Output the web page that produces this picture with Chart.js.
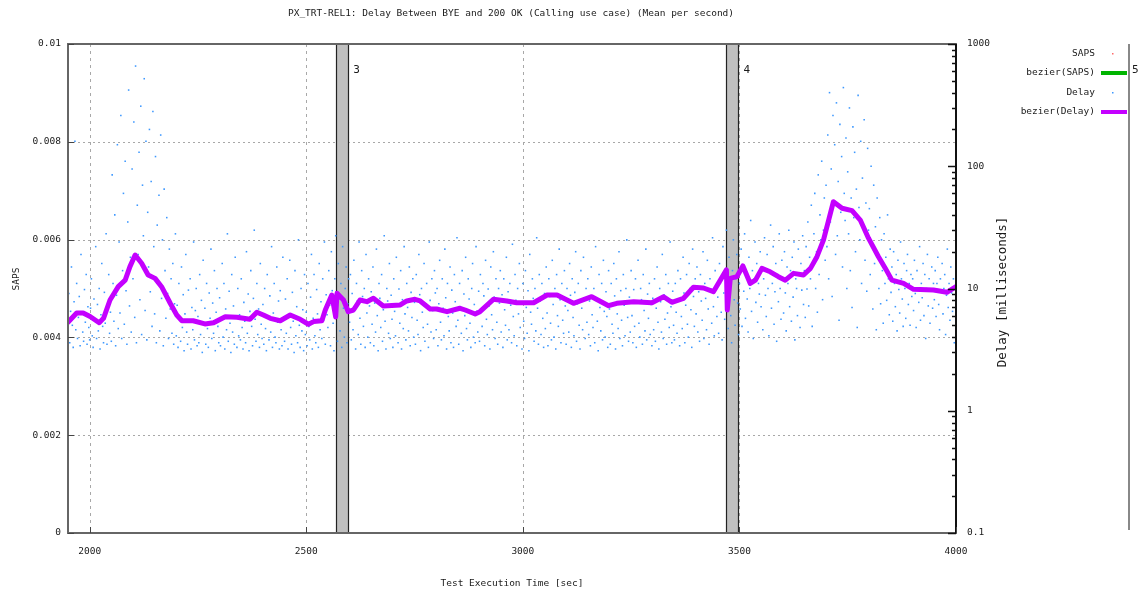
<!DOCTYPE html>
<html><head><meta charset="utf-8">
<script src="https://cdn.jsdelivr.net/npm/chart.js@4/dist/chart.umd.min.js"></script>
<style>html,body{margin:0;padding:0;background:#fff;overflow:hidden}canvas{display:block}</style>
</head><body>
<canvas id="c" width="1146" height="595"></canvas>
<script>
const chartTitle = 'PX_TRT-REL1: Delay Between BYE and 200 OK (Calling use case) (Mean per second)';
const xTitle = 'Test Execution Time [sec]';
const yTitle = 'SAPS';
const y2Title = 'Delay [milliseconds]';
const xTicks = [2000, 2500, 3000, 3500, 4000];
const sapsTicks = [0, 0.002, 0.004, 0.006, 0.008, 0.01];
const sapsTickLabels = ['0', '0.002', '0.004', '0.006', '0.008', '0.01'];
const delayTicks = [0.1, 1, 10, 100, 1000];
const delayTickLabels = ['0.1', '1', '10', '100', '1000'];
const bandStart = [2569, 3470];
const bandEnd = [2599, 3500];
const bandLabel = ['3', '4'];
const legendLabels = ['SAPS', 'bezier(SAPS)', 'Delay', 'bezier(Delay)'];

// Delay (ms), one reading every 2 s starting at 1950 s
const scatterStart = 1950, scatterStep = 2;
const delayScatter = [
4.2,9.1,3.6,6.5,15,5.0,3.3,7.8,160,4.6,11,3.9,5.8,8.6,3.4,19,6.2,4.4,3.7,9.8,5.3,13,3.5,7.1,4.8,
3.8,6.9,12,4.1,3.3,8.2,5.6,22,3.9,7.4,4.5,10,3.2,6.1,16,4.9,3.6,9.3,5.2,28,3.5,7.7,13,4.3,6.4,
3.7,85,11,5.4,40,3.4,8.8,150,4.7,24,6.3,260,3.9,14,60,5.1,110,9.6,3.5,35,420,7.2,18,4.4,95,
12,230,5.8,660,3.6,48,19,130,8.1,310,4.2,70,27,520,6.6,160,3.8,42,15,200,9.4,75,4.9,280,22,
6.2,120,3.6,33,11,58,4.5,180,8.3,25,3.4,65,14,5.7,38,9.1,3.9,21,6.8,12,4.3,16,3.5,7.5,28,
4.1,7.3,3.3,11,5.6,3.7,15,4.8,8.9,3.1,6.2,19,4.4,3.5,9.7,5.3,12,3.2,7.0,4.6,24,3.8,6.6,10,3.4,
5.9,3.6,13,4.2,8.0,3.0,17,5.1,6.9,3.5,11,4.7,3.3,9.2,5.7,21,3.9,7.6,4.3,14,3.1,6.4,10,4.9,3.6,
8.4,3.4,5.5,16,4.0,11,3.2,6.8,4.6,28,3.7,9.5,5.2,3.0,13,4.4,7.2,3.5,18,5.8,3.3,10,4.1,6.1,3.8,
12,4.8,3.2,7.7,5.4,3.6,20,4.3,9.0,3.1,6.5,14,4.9,3.4,8.3,30,5.6,3.7,11,4.2,6.8,3.3,16,5.1,3.9,
7.4,3.5,10,4.7,3.1,13,5.9,3.8,8.7,4.4,22,3.3,6.3,11,4.0,3.6,15,5.3,7.9,3.2,9.6,4.6,3.4,18,5.7,
3.7,8.2,4.3,12,3.2,6.0,17,4.8,3.5,9.3,5.4,3.0,14,4.1,7.1,3.6,25,5.0,3.3,10,4.5,6.7,3.1,13,4.2,
6.4,3.4,11,4.9,3.8,8.5,19,3.2,5.7,13,4.1,3.6,9.8,6.2,3.3,16,4.6,7.8,3.9,12,5.5,24,3.5,8.9,6.1,
4.8,14,7.3,3.4,20,9.6,5.2,3.1,12,27,6.4,3.7,16,8.2,4.5,11,3.3,22,6.9,4.0,10,15,3.6,7.5,12,
5.3,13,3.8,9.1,4.6,17,6.8,3.2,11,7.9,4.2,24,5.7,3.5,14,8.6,4.9,10,3.3,19,6.3,4.0,12,7.2,3.6,
9.4,5.1,15,3.4,7.6,4.4,21,6.0,3.1,11,8.3,4.8,13,3.7,6.7,27,5.4,3.2,10,7.9,4.3,16,3.9,8.8,5.6,
3.3,12,6.5,4.1,18,7.4,3.6,9.9,5.2,14,3.2,8.1,4.7,22,6.2,3.8,11,7.0,4.5,15,3.4,9.3,5.8,12,4.0,
7.7,3.5,13,5.5,4.2,19,8.9,3.1,10,6.4,4.8,16,3.7,7.2,11,5.1,3.3,24,8.0,4.4,12,6.6,3.9,14,9.2,
4.6,10,3.4,7.5,17,5.3,3.8,12,6.9,4.1,21,8.4,3.2,11,5.9,4.5,15,3.6,9.7,6.3,3.3,13,7.8,4.9,26,
5.5,3.5,11,7.1,4.3,14,3.1,9.0,6.0,18,4.7,3.8,12,8.2,5.2,3.3,10,16,4.0,7.4,3.6,22,6.5,4.4,9.5,
3.7,13,6.8,4.9,11,8.7,3.4,17,5.6,4.2,9.9,7.2,3.2,15,6.1,4.6,20,8.5,3.9,12,5.3,3.5,10,7.6,14,
4.4,8.9,3.3,12,6.7,5.0,18,3.8,9.4,4.6,11,7.3,3.6,23,5.9,4.1,13,8.0,3.4,10,6.2,16,4.8,7.7,3.2,
11,5.4,3.9,14,7.0,4.3,9.6,3.1,19,6.4,5.1,12,8.3,3.7,10,4.5,26,6.9,3.5,13,7.9,4.2,11,5.7,3.3,
9.1,4.7,15,6.3,3.4,12,8.6,5.2,3.8,17,7.4,4.0,10,3.2,13,6.0,4.9,21,8.1,3.6,11,5.5,4.3,14,7.2,
3.5,10,6.6,4.4,16,8.8,3.3,12,5.8,4.1,9.3,20,3.7,7.5,11,5.0,3.2,14,6.9,4.6,18,8.4,3.9,10,5.3,
12,4.2,7.9,3.4,15,6.1,4.8,10,3.6,22,8.0,5.4,3.1,13,7.0,4.5,11,3.8,17,6.5,4.0,9.4,5.9,3.3,14,
6.8,3.5,11,5.1,4.3,16,8.7,3.2,12,6.2,4.7,20,3.9,9.6,5.5,3.4,13,7.3,4.1,10,25,5.8,3.7,8.5,4.4,
14,6.0,3.6,9.8,4.9,12,3.3,7.7,17,5.2,4.0,10,8.1,3.5,13,6.6,4.5,21,3.8,9.0,5.7,11,4.2,7.4,3.4,
8.3,4.6,12,3.7,6.9,15,5.3,3.2,10,7.8,4.4,19,3.9,8.9,5.6,13,3.5,6.3,11,4.8,24,7.1,3.6,9.5,5.0,
3.8,11,6.4,4.3,14,8.0,3.4,12,5.9,4.7,18,9.2,3.6,7.3,13,5.1,4.0,16,10,6.7,3.3,21,8.6,4.9,12,
6.2,15,4.4,9.4,3.7,13,7.9,5.5,20,3.9,11,8.3,4.6,17,6.8,3.5,12,9.9,5.2,26,7.1,4.1,14,10,5.9,
8.5,4.3,16,11,6.4,3.8,22,9.2,5.6,13,30,7.3,4.7,18,10,6.0,3.6,14,25,8.1,5.0,12,19,7.6,4.2,
11,6.8,21,4.9,15,9.5,28,5.7,13,8.2,4.4,18,10,36,6.5,14,3.9,12,24,7.7,16,5.3,11,9.0,20,
7.1,15,4.6,12,26,8.8,5.9,19,10,4.1,14,33,6.9,11,22,5.1,9.4,16,3.7,13,7.8,28,10,5.6,17,
12,6.3,20,9.2,4.5,15,11,30,7.1,14,5.4,18,8.5,24,3.8,12,10,6.0,21,13,4.8,16,9.7,27,7.4,
14,5.8,22,9.9,35,7.2,18,12,48,4.9,16,28,60,10,20,6.4,85,13,40,25,110,8.1,30,55,17,
70,22,180,12,400,35,95,8.6,260,48,150,19,330,27,75,5.5,220,42,120,15,440,60,36,170,10,
90,28,300,14,55,7.0,210,38,130,20,65,4.8,380,46,25,160,11,80,33,240,17,50,9.5,140,30,
45,13,100,22,6.8,70,16,32,4.6,55,19,10,38,7.5,25,14,5.2,28,11,18,8.0,40,12,6.1,21,
9.3,15,5.4,20,11,7.1,13,4.5,17,9.8,6.3,24,12,8.2,4.9,16,10,5.7,14,19,7.4,11,5.0,13,8.6,
12,6.6,17,9.1,4.8,14,10,7.7,22,5.5,11,8.4,16,6.0,13,3.9,10,19,7.2,12,5.2,9.5,15,6.9,11,
8.1,14,5.9,11,18,7.4,4.6,12,9.7,16,6.2,10,13,4.2,8.8,21,7.0,11,5.5,15,9.2,6.5,12,3.6,10
];

const bezierTime = [1950,1970,1985,2001,2022,2032,2047,2066,2082,2093,2105,2120,2135,2151,2166,2186,2201,2213,2239,2266,
2286,2313,2340,2370,2386,2401,2417,2440,2463,2486,2505,2517,2536,2544,2559,2568,2571,2586,2597,2609,
2624,2640,2655,2678,2717,2732,2751,2763,2786,2801,2825,2855,2867,2890,2901,2932,2963,2986,3025,3056,
3079,3117,3159,3198,3217,3256,3298,3325,3344,3371,3394,3417,3440,3470,3472,3479,3494,3508,3525,3537,
3552,3571,3590,3606,3625,3648,3664,3679,3694,3706,3717,3737,3760,3779,3798,3821,3837,3852,3879,3902,
3948,3979,4000];
const bezierDelay = [5.3,6.3,6.3,5.9,5.25,5.7,8.05,10.35,11.7,15.1,18.8,16.1,12.9,12.1,10.35,7.57,6.07,5.45,5.45,5.13,
5.25,5.88,5.81,5.6,6.39,6.07,5.7,5.45,6.07,5.6,5.1,5.36,5.45,6.67,8.85,5.85,9.14,8.05,6.46,6.67,
8.05,7.8,8.32,7.19,7.33,7.91,8.16,7.91,6.8,6.8,6.46,6.89,6.67,6.19,6.46,8.16,7.91,7.65,7.65,8.85,
8.85,7.57,8.57,7.23,7.57,7.8,7.65,8.57,7.71,8.32,10.23,10.1,9.42,14.2,6.67,12.1,12.5,15.3,11.0,11.7,
14.6,13.7,12.5,11.7,13.3,12.9,14.6,18.2,24.9,36.3,51.3,45.3,43.3,36.3,25.8,18.2,14.6,11.7,11.0,9.85,
9.72,9.31,10.35];

const FONT = '"DejaVu Sans Mono", monospace';
const TXT = '#1a1a1a';
Chart.defaults.font.family = FONT;
Chart.defaults.font.size = 9.5;
Chart.defaults.color = TXT;

const scatterPts = delayScatter.map((v, i) => ({x: scatterStart + i * scatterStep, y: v}));
const bezierPts = bezierTime.map((t, i) => ({x: t, y: bezierDelay[i]}));

const deco = {
  id: 'deco',
  beforeDatasetsDraw(chart) {
    const {ctx, chartArea: a, scales: {x, y}} = chart;
    ctx.save();
    ctx.lineWidth = 1;
    ctx.strokeStyle = '#a8a8a8';
    ctx.setLineDash([2, 3]);
    sapsTicks.forEach(v => {
      if (v <= 0 || v >= 0.01) return;
      const py = Math.round(y.getPixelForValue(v)) + 0.5;
      ctx.beginPath(); ctx.moveTo(a.left, py); ctx.lineTo(a.right, py); ctx.stroke();
    });
    ctx.setLineDash([3, 4]);
    xTicks.forEach(v => {
      if (v >= 4000) return;
      const px = Math.round(x.getPixelForValue(v)) + 0.5;
      ctx.beginPath(); ctx.moveTo(px, a.top); ctx.lineTo(px, a.bottom); ctx.stroke();
    });
    ctx.setLineDash([]);
    bandStart.forEach((s, i) => {
      const x0 = Math.round(x.getPixelForValue(s));
      const x1 = Math.round(x.getPixelForValue(bandEnd[i]));
      ctx.fillStyle = '#c0c0c0';
      ctx.fillRect(x0, a.top, x1 - x0, a.bottom - a.top);
      ctx.strokeStyle = '#222';
      ctx.lineWidth = 1.2;
      ctx.beginPath();
      ctx.moveTo(x0 + 0.5, a.top); ctx.lineTo(x0 + 0.5, a.bottom);
      ctx.moveTo(x1 - 0.5, a.top); ctx.lineTo(x1 - 0.5, a.bottom);
      ctx.stroke();
    });
    ctx.restore();
  },
  afterDraw(chart) {
    const {ctx, chartArea: a, scales: {x, y, y2}} = chart;
    ctx.save();
    // borders
    ctx.strokeStyle = '#666';
    ctx.lineWidth = 2;
    ctx.strokeRect(a.left, a.top, a.right - a.left, a.bottom - a.top);
    ctx.strokeStyle = '#111';
    ctx.beginPath(); ctx.moveTo(a.right, a.top); ctx.lineTo(a.right, a.bottom); ctx.stroke();
    // tick marks
    ctx.lineWidth = 1;
    ctx.strokeStyle = '#444';
    ctx.beginPath();
    sapsTicks.forEach(v => {
      const py = Math.round(y.getPixelForValue(v)) + 0.5;
      ctx.moveTo(a.left, py); ctx.lineTo(a.left + 6, py);
    });
    xTicks.forEach(v => {
      const px = Math.round(x.getPixelForValue(v)) + 0.5;
      ctx.moveTo(px, a.bottom); ctx.lineTo(px, a.bottom - 6);
    });
    ctx.stroke();
    ctx.strokeStyle = '#111';
    ctx.lineWidth = 1.4;
    ctx.beginPath();
    delayTicks.forEach((d, i) => {
      const py = Math.round(y2.getPixelForValue(d)) + 0.5;
      ctx.moveTo(a.right, py); ctx.lineTo(a.right - 8, py);
      if (i < delayTicks.length - 1) {
        for (let k = 2; k <= 9; k++) {
          const pm = Math.round(y2.getPixelForValue(d * k)) + 0.5;
          ctx.moveTo(a.right, pm); ctx.lineTo(a.right - 4, pm);
        }
      }
    });
    ctx.stroke();
    // title
    ctx.fillStyle = TXT;
    ctx.font = '9.5px ' + FONT;
    ctx.textAlign = 'center';
    ctx.textBaseline = 'middle';
    ctx.fillText(chartTitle, 511, 14);
    // left axis title
    ctx.save();
    ctx.translate(17, 279);
    ctx.rotate(-Math.PI / 2);
    ctx.fillText(yTitle, 0, 0);
    ctx.restore();
    // right axis title
    ctx.save();
    ctx.font = '12.5px ' + FONT;
    ctx.translate(1003, 292);
    ctx.rotate(-Math.PI / 2);
    ctx.fillText(y2Title, 0, 0);
    ctx.restore();
    // band labels
    ctx.font = '11px ' + FONT;
    ctx.textAlign = 'left';
    bandEnd.forEach((e, i) => {
      ctx.fillText(bandLabel[i], x.getPixelForValue(e) + 4, 70);
    });
    ctx.fillText('5', 1132, 70);
    // legend
    const rows = [54, 73, 93, 112];
    ctx.font = '9.5px ' + FONT;
    ctx.textAlign = 'right';
    legendLabels.forEach((t, i) => ctx.fillText(t, 1095, rows[i]));
    ctx.fillStyle = '#ff6a6a';
    ctx.fillRect(1112, rows[0] - 1, 1.5, 1.5);
    ctx.fillStyle = '#3d98ff';
    ctx.fillRect(1112, rows[2] - 1, 1.5, 1.5);
    ctx.lineWidth = 4;
    ctx.strokeStyle = '#00b400';
    ctx.beginPath(); ctx.moveTo(1101, rows[1]); ctx.lineTo(1127, rows[1]); ctx.stroke();
    ctx.strokeStyle = '#c400ff';
    ctx.beginPath(); ctx.moveTo(1101, rows[3]); ctx.lineTo(1127, rows[3]); ctx.stroke();
    ctx.strokeStyle = '#888';
    ctx.lineWidth = 2;
    ctx.beginPath(); ctx.moveTo(1129, 44); ctx.lineTo(1129, 530); ctx.stroke();
    ctx.restore();
  }
};

new Chart(document.getElementById('c'), {
  type: 'scatter',
  data: {
    datasets: [
      {label: 'bezier(Delay)', type: 'line', data: bezierPts, yAxisID: 'y2', borderColor: '#c400ff',
       borderWidth: 5, pointRadius: 0, tension: 0, fill: false, borderJoinStyle: 'round', borderCapStyle: 'round', order: 1},
      {label: 'Delay', data: scatterPts, yAxisID: 'y2', showLine: false, pointStyle: 'rect', pointRadius: 1.1,
       pointHoverRadius: 1.1, backgroundColor: '#3d98ff', borderWidth: 0, order: 2},
      {label: 'SAPS', data: [], yAxisID: 'y', order: 3},
      {label: 'bezier(SAPS)', type: 'line', data: [], yAxisID: 'y', order: 4}
    ]
  },
  options: {
    responsive: false,
    animation: false,
    devicePixelRatio: 1,
    layout: {padding: {top: 44, left: 0, right: 0, bottom: 0}},
    plugins: {legend: {display: false}, title: {display: false}, tooltip: {enabled: false}},
    scales: {
      x: {
        type: 'linear', position: 'bottom', min: 1950, max: 4000,
        grid: {display: false, drawTicks: false}, border: {display: false},
        afterBuildTicks: s => { s.ticks = xTicks.map(v => ({value: v})); },
        ticks: {padding: 13, maxRotation: 0, autoSkip: false, callback: v => String(v)},
        title: {display: true, text: xTitle, padding: {top: 0, bottom: 6}, font: {size: 9.5}},
        afterFit: s => { s.height = 62; }
      },
      y: {
        type: 'linear', position: 'left', min: 0, max: 0.01,
        grid: {display: false, drawTicks: false}, border: {display: false},
        afterBuildTicks: s => { s.ticks = sapsTicks.map(v => ({value: v})); },
        ticks: {padding: 7, autoSkip: false, callback: (v, i) => sapsTickLabels[i]},
        afterFit: s => { s.width = 68; }
      },
      y2: {
        type: 'logarithmic', position: 'right', min: 0.1, max: 1000,
        grid: {display: false, drawTicks: false}, border: {display: false},
        afterBuildTicks: s => { s.ticks = delayTicks.map(v => ({value: v})); },
        ticks: {padding: 11, autoSkip: false, callback: (v, i) => delayTickLabels[i]},
        afterFit: s => { s.width = 190; }
      }
    }
  },
  plugins: [deco]
});
</script>
</body></html>
